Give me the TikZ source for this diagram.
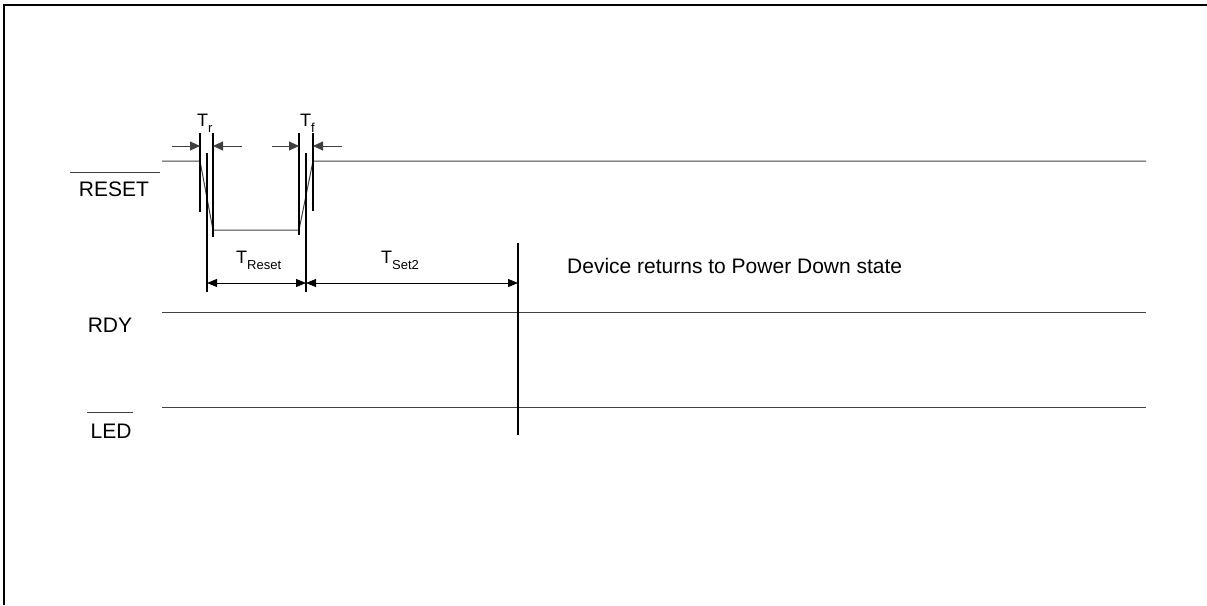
\documentclass[tikz,border=0pt]{standalone}
\usepackage{fontspec}
\setmainfont{Liberation Sans}
\usetikzlibrary{arrows.meta,positioning}

\begin{document}
\begin{tikzpicture}[x=1pt,y=-1pt,
  sig/.style={draw=black!75,line width=1pt},
  guide/.style={draw=black,line width=1.3pt},
  tip/.style={-{Triangle[length=10pt,width=9pt]},draw=black!75,line width=1pt},
  dim/.style={{Triangle[length=10pt,width=8pt]}-{Triangle[length=10pt,width=8pt]},draw=black,line width=1pt},
  lbl/.style={font=\fontsize{21}{25}\selectfont,inner sep=0pt},
  tlbl/.style={font=\fontsize{18}{21}\selectfont,inner sep=0pt,anchor=base west}]
  \useasboundingbox (0,0) rectangle (1207,605);
  % frame
  \draw[line width=2pt] (4,605) -- (4,5) -- (1207,5);
  % signal names
  \node[lbl] (nreset) at (114,189) {RESET};
  \node[lbl] (nrdy) at (110,325) {RDY};
  \node[lbl] (nled) at (111,431) {LED};
  \draw[black!75,line width=1pt] (70,172) -- (160,172);
  \draw[black!75,line width=1pt] (87,412) -- (133,412);
  % waveforms
  \draw[sig] (162,161) -- (200,161) -- (213,230) -- (299,230) -- (313,161) -- (1146,161);
  \draw[sig] (162,312) -- (1146,312);
  \draw[sig] (162,407) -- (1146,407);
  % guide lines
  \draw[guide] (200,133) -- (200,212);
  \draw[guide] (213,133) -- (213,237);
  \draw[guide] (207,153) -- (207,292);
  \draw[guide] (299,133) -- (299,235);
  \draw[guide] (306,153) -- (306,292);
  \draw[guide] (313,133) -- (313,211);
  \draw[guide] (518,243) -- (518,435);
  \coordinate (rl) at (200,146);
  \coordinate (rr) at (213,146);
  \coordinate (fl) at (299,146);
  \coordinate (fr) at (313,146);
  \coordinate (ta) at (207,283);
  \coordinate (tb) at (306,283);
  \coordinate (tc) at (518,283);
  % edge times
  \draw[tip] (172,146) -- (rl);
  \draw[tip] (242,146) -- (rr);
  \draw[tip] (272,146) -- (fl);
  \draw[tip] (342,146) -- (fr);
  \node[tlbl] (ttr) at (197,126) {T\raisebox{-6pt}{\fontsize{13}{15}\selectfont r}};
  \node[tlbl] (ttf) at (300,126) {T\raisebox{-6pt}{\fontsize{13}{15}\selectfont f}};
  % reset and set times
  \draw[dim] (ta) -- (tb);
  \draw[dim] (tb) -- (tc);
  \node[tlbl] (ttreset) at (236,263) {T\raisebox{-6pt}{\fontsize{13}{15}\selectfont Reset}};
  \node[tlbl] (ttset) at (381,263) {T\raisebox{-6pt}{\fontsize{13}{15}\selectfont Set2}};
  \node[lbl,anchor=west] (ndev) at (567,266) {Device returns to Power Down state};
\end{tikzpicture}
\end{document}
